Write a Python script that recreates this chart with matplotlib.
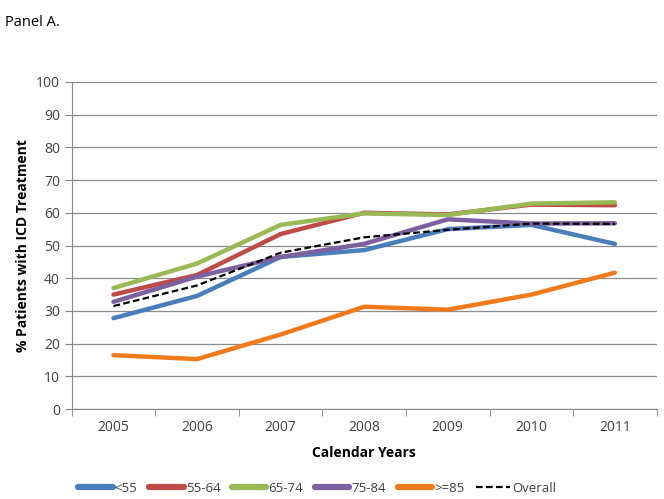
import matplotlib
matplotlib.use('Agg')
import matplotlib.pyplot as plt
import numpy as np

plt.rcParams['font.family'] = ['Open Sans', 'DejaVu Sans']

years = ['2005', '2006', '2007', '2008', '2009', '2010', '2011']
under55 = [27.8, 34.6, 46.5, 48.6, 55.0, 56.3, 50.5]
age55_64 = [35.0, 41.0, 53.5, 60.0, 59.5, 62.5, 62.3]
age65_74 = [37.0, 44.5, 56.3, 59.8, 59.3, 62.8, 63.2]
age75_84 = [32.8, 40.5, 46.5, 50.5, 58.0, 56.7, 56.8]
over85 = [16.5, 15.3, 22.8, 31.3, 30.4, 35.0, 41.7]
overall = [31.5, 37.8, 47.8, 52.5, 54.8, 56.7, 56.6]

series = [
    ('<55', under55, '#4A7EBB'),
    ('55-64', age55_64, '#BE4B48'),
    ('65-74', age65_74, '#98B954'),
    ('75-84', age75_84, '#7D60A0'),
    ('>=85', over85, '#F17A1C'),
]

fig = plt.figure(figsize=(6.64, 4.99), dpi=100)
ax = fig.add_axes([0.108, 0.180, 0.881, 0.656])

x = np.arange(len(years))
for label, vals, col in series:
    ax.plot(x, vals, color=col, lw=3.2, label=label, solid_capstyle='round')
ax.plot(x, overall, color='black', lw=1.6, ls=(0, (3, 1.5)), label='Overall')

ax.set_xlim(-0.5, len(years) - 0.5)
ax.set_ylim(0, 100)
ax.set_yticks(range(0, 101, 10))
ax.set_xticks(x)
ax.set_xticklabels(years)
ax.set_xticks(np.arange(-0.5, len(years), 1), minor=True)
ax.tick_params(axis='x', which='major', length=0, labelsize=10, pad=8)
ax.tick_params(axis='x', which='minor', length=5, color='#888888', direction='out')
ax.tick_params(axis='y', length=5, color='#888888', labelsize=10)
for lbl in ax.get_yticklabels() + ax.get_xticklabels():
    lbl.set_color('#404040')
ax.grid(axis='y', color='#8c8c8c', lw=0.9)
ax.set_axisbelow(True)
for s in ['top', 'right']:
    ax.spines[s].set_visible(False)
ax.spines['left'].set_color('#888888')
ax.spines['bottom'].set_color('#888888')

ax.set_xlabel('Calendar Years', fontsize=10, fontweight='bold', labelpad=8)
ax.set_ylabel('% Patients with ICD Treatment', fontsize=10, fontweight='bold', labelpad=4)

fig.text(0.008, 0.955, 'Panel A.', fontsize=10.5, ha='left', va='center')

leg = fig.legend(loc='center', bbox_to_anchor=(0.478, 0.022), ncol=6, frameon=False,
                 fontsize=9.5, handlelength=2.6, handletextpad=0.15, columnspacing=0.9)
for h in leg.get_lines()[:5]:
    h.set_linewidth(4.5)
for t in leg.get_texts():
    t.set_color('#404040')

fig.savefig('out.png', dpi=100)
